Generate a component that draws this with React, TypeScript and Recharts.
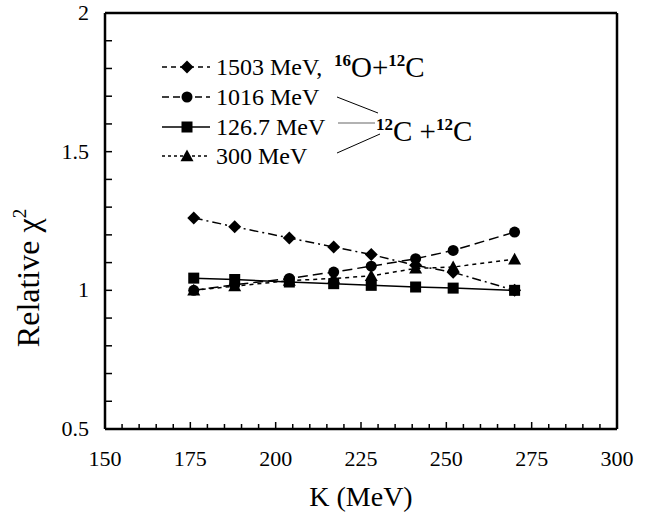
import React from 'react';
import { LineChart, Line, XAxis, YAxis, Legend } from 'recharts';

const kValues = [176, 188, 204, 217, 228, 241, 252, 270];
const chi1503 = [1.261, 1.229, 1.189, 1.156, 1.129, 1.09, 1.065, 1.0];
const chi1016 = [1.0, 1.02, 1.043, 1.066, 1.087, 1.114, 1.144, 1.21];
const chi1267 = [1.044, 1.039, 1.03, 1.024, 1.018, 1.012, 1.008, 1.0];
const chi300 = [1.0, 1.015, 1.035, 1.043, 1.052, 1.079, 1.084, 1.112];

const seriesNames = ['1503 MeV,', '1016 MeV', '126.7 MeV', '300 MeV'];
const seriesKeys = ['s1503', 's1016', 's1267', 's300'];

const xTicks = [150, 155, 160, 165, 170, 175, 180, 185, 190, 195, 200, 205, 210, 215, 220, 225, 230, 235, 240, 245, 250, 255, 260, 265, 270, 275, 280, 285, 290, 295, 300];
const xLabels = [150, 175, 200, 225, 250, 275, 300];
const yTicks = [0.5, 0.6, 0.7, 0.8, 0.9, 1.0, 1.1, 1.2, 1.3, 1.4, 1.5, 1.6, 1.7, 1.8, 1.9, 2.0];
const yLabels = [0.5, 1, 1.5, 2];

const data = kValues.map((k, i) => ({
  k,
  s1503: chi1503[i],
  s1016: chi1016[i],
  s1267: chi1267[i],
  s300: chi300[i],
}));

const FONT = 'Liberation Serif';

const dashes: Record<string, string | undefined> = {
  s1503: '9 4 2 4',
  s1016: '10 5',
  s1267: undefined,
  s300: '4 4',
};

const legendDashes: Record<string, string | undefined> = {
  s1503: '5 4',
  s1016: '7 4',
  s1267: undefined,
  s300: '3 3',
};

function Marker({ kind, cx, cy }: { kind: string; cx: number; cy: number }) {
  if (cx == null || cy == null) return null;
  if (kind === 's1503') {
    const h = 6.5;
    return <polygon points={`${cx},${cy - h} ${cx + h},${cy} ${cx},${cy + h} ${cx - h},${cy}`} fill="#000" />;
  }
  if (kind === 's1016') return <circle cx={cx} cy={cy} r={5.5} fill="#000" />;
  if (kind === 's1267') return <rect x={cx - 5.5} y={cy - 5.5} width={11} height={11} fill="#000" />;
  const s = 6.5;
  return <polygon points={`${cx},${cy - s} ${cx + s},${cy + s * 0.8} ${cx - s},${cy + s * 0.8}`} fill="#000" />;
}

const makeDot = (kind: string) => (props: any) => (
  <Marker key={`${kind}-${props.index}`} kind={kind} cx={props.cx} cy={props.cy} />
);

const XTick = (props: any) => {
  const { x, y, payload } = props;
  const v = payload.value;
  const major = xLabels.includes(v);
  return (
    <g>
      <line x1={x} y1={y} x2={x} y2={y - (major ? 7 : 5)} stroke="#000" strokeWidth={1.5} />
      {major && (
        <text x={x} y={y + 37} textAnchor="middle" fontSize={22} fontFamily={FONT} fill="#000">
          {v}
        </text>
      )}
    </g>
  );
};

const YTick = (props: any) => {
  const { x, y, payload } = props;
  const v = payload.value;
  const major = yLabels.some((l) => Math.abs(l - v) < 1e-6);
  return (
    <g>
      <line x1={x} y1={y} x2={x + 7} y2={y} stroke="#000" strokeWidth={1.5} />
      {major && (
        <text x={x - 16} y={y + 7} textAnchor="end" fontSize={22} fontFamily={FONT} fill="#000">
          {String(Math.round(v * 10) / 10)}
        </text>
      )}
    </g>
  );
};

const YLabel = () => (
  <text
    x={0}
    y={0}
    transform="translate(39,278) rotate(-90)"
    textAnchor="middle"
    fontSize={32}
    fontFamily={FONT}
    fill="#000"
  >
    Relative χ<tspan dy={-13} fontSize={19}>2</tspan>
  </text>
);

const XLabel = (props: any) => {
  const vb = props.viewBox || {};
  const cx = vb.x + vb.width / 2;
  return (
    <text x={cx} y={506} textAnchor="middle" fontSize={28} fontFamily={FONT} fill="#000">
      K (MeV)
    </text>
  );
};

const renderLegend = (props: any) => {
  const payload = props.payload || [];
  const rowY = [67, 97, 127, 156];
  return (
    <svg width={662} height={200} style={{ display: 'block' }} fontFamily={FONT}>
      {payload.map((entry: any) => {
        const key = entry.dataKey as string;
        const idx = seriesKeys.indexOf(key);
        const y = rowY[idx];
        return (
          <g key={key}>
            <line x1={162} y1={y} x2={210} y2={y} stroke="#000" strokeWidth={1.5} strokeDasharray={legendDashes[key]} />
            <Marker kind={key} cx={187} cy={y} />
            <text x={216} y={y + 8} fontSize={24} fontFamily={FONT} fill="#000">
              {entry.value}
            </text>
          </g>
        );
      })}
      <text x={334} y={77} fontSize={29} fontFamily={FONT} fill="#000">
        <tspan fontSize={17} fontWeight="bold" dy={-11}>16</tspan>
        <tspan dy={11}>O+</tspan>
        <tspan fontSize={17} fontWeight="bold" dy={-11}>12</tspan>
        <tspan dy={11}>C</tspan>
      </text>
      <line x1={337} y1={97} x2={378} y2={113} stroke="#000" strokeWidth={1} />
      <line x1={338} y1={123} x2={375} y2={123} stroke="#999" strokeWidth={1.5} />
      <line x1={337} y1={153} x2={380} y2={134} stroke="#000" strokeWidth={1} />
      <text x={376} y={141} fontSize={29} fontFamily={FONT} fill="#000">
        <tspan fontSize={17} fontWeight="bold" dy={-11}>12</tspan>
        <tspan dy={11}>C +</tspan>
        <tspan fontSize={17} fontWeight="bold" dy={-11}>12</tspan>
        <tspan dy={11}>C</tspan>
      </text>
    </svg>
  );
};

export default function App() {
  return (
    <div style={{ position: 'absolute', left: 0, top: 0, width: 662, height: 527, background: '#fff', fontFamily: FONT }}>
      <LineChart
        width={662}
        height={527}
        data={data}
        margin={{ top: 12, right: 44, bottom: 97, left: 104 }}
        style={{ fontFamily: FONT }}
      >
        <XAxis
          xAxisId="bottom"
          dataKey="k"
          type="number"
          domain={[150, 300]}
          ticks={xTicks}
          interval={0}
          height={1}
          tickSize={0}
          tickMargin={0}
          tickLine={false}
          tick={<XTick />}
          axisLine={{ stroke: '#000', strokeWidth: 2.5 }}
          label={<XLabel />}
          allowDataOverflow
        />
        <XAxis
          xAxisId="top"
          orientation="top"
          type="number"
          domain={[150, 300]}
          height={1}
          tick={false}
          tickLine={false}
          axisLine={{ stroke: '#000', strokeWidth: 2.5 }}
          allowDataOverflow
        />
        <YAxis
          yAxisId="left"
          type="number"
          domain={[0.5, 2]}
          ticks={yTicks}
          interval={0}
          width={1}
          tickSize={0}
          tickMargin={0}
          tickLine={false}
          tick={<YTick />}
          axisLine={{ stroke: '#000', strokeWidth: 2.5 }}
          label={<YLabel />}
          allowDataOverflow
        />
        <YAxis
          yAxisId="right"
          orientation="right"
          type="number"
          domain={[0.5, 2]}
          width={1}
          tick={false}
          tickLine={false}
          axisLine={{ stroke: '#000', strokeWidth: 2.5 }}
          allowDataOverflow
        />
        <Legend
          layout="vertical"
          align="center"
          verticalAlign="middle"
          wrapperStyle={{ left: 0, top: 0, width: 662, height: 200 }}
          content={renderLegend}
        />
        {seriesKeys.map((key, i) => (
          <Line
            key={key}
            xAxisId="bottom"
            yAxisId="left"
            dataKey={key}
            name={seriesNames[i]}
            stroke="#000"
            strokeWidth={1.5}
            strokeDasharray={dashes[key]}
            dot={makeDot(key)}
            activeDot={false}
            isAnimationActive={false}
          />
        ))}
      </LineChart>
    </div>
  );
}
